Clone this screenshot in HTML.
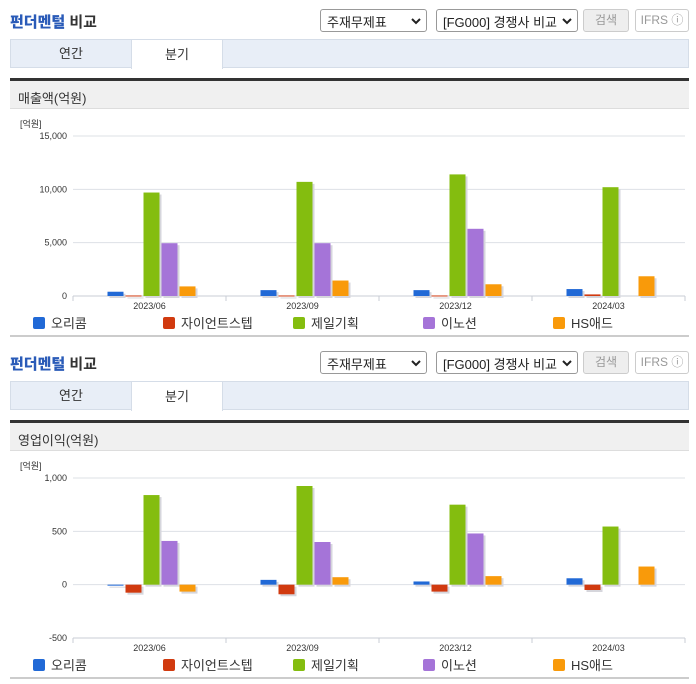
<!DOCTYPE html>
<html><head><meta charset="utf-8">
<style>
*{box-sizing:border-box;margin:0;padding:0}
body{width:696px;height:684px;background:#fff;font-family:"Liberation Sans","Noto Sans CJK KR",sans-serif;position:relative;overflow:hidden;color:#333}
.blk{position:absolute;left:0;width:696px;height:342px}
.title{position:absolute;left:10px;top:11px;font-size:15px;font-weight:bold;color:#333}
.title b{color:#2a5bb8}
.sel{position:absolute;top:9px;height:23px;border:1px solid #999;border-radius:3px;background:#fff;font-size:13px;padding:2px 6px;color:#222}
.sel svg{position:absolute;right:5px;top:8px}
.btn{position:absolute;top:9px;height:23px;border:1px solid #ccc;border-radius:3px;font-size:12px;color:#999;text-align:center;line-height:21px}
.tabs{position:absolute;left:10px;top:39px;width:679px;height:29px;background:#e8eef7;border:1px solid #d5dde8}
.tab{position:absolute;top:-1px;height:29px;line-height:30px;font-size:13px;text-align:center;color:#333}
.tab.on{background:#fff;border:1px solid #d5dde8;border-bottom:none;height:30px}
.sec{position:absolute;left:10px;top:78px;width:679px;height:31px;background:#f0f0f0;border-top:3px solid #333;border-bottom:1px solid #ddd;font-size:13px;padding:7px 0 0 8px}
.unit{position:absolute;left:20px;top:117px;font-size:9px;color:#333}
svg.ch{position:absolute;left:0;top:0}
.leg{position:absolute;top:313px;font-size:13px;color:#333;display:flex;align-items:center}
.leg i{display:inline-block;width:12px;height:12px;margin-right:6px;border-radius:2px}
.bot{position:absolute;left:10px;top:335px;width:679px;height:2px;background:#ccc}
</style></head><body>
<div id="b1" class="blk" style="top:0"></div>
<div id="b2" class="blk" style="top:342px"></div>
<script>
const categories=["2023/06","2023/09","2023/12","2024/03"];
const seriesNames=["오리콤","자이언트스텝","제일기획","이노션","HS애드"];
const seriesColors=["#2169d6","#d13a0f","#84bd0f","#a574d8","#f99a0a"];
const salesOricom=[400,550,550,650];
const salesGiant=[50,50,50,150];
const salesCheil=[9700,10700,11400,10200];
const salesInnocean=[4950,4950,6300,null];
const salesHS=[900,1450,1100,1850];
const salesTicks=[0,5000,10000,15000];
const opOricom=[0,45,30,60];
const opGiant=[-75,-90,-65,-50];
const opCheil=[840,925,750,545];
const opInnocean=[410,400,480,null];
const opHS=[-65,70,80,170];
const opTicks=[-500,0,500,1000];
const chev='<svg width="10" height="7" viewBox="0 0 10 7"><path d="M1 1l4 4 4-4" fill="none" stroke="#222" stroke-width="2"/></svg>';
function build(id,secTitle,series,ticks,name){
  const b=document.getElementById(id);
  let h='<div class="title"><b>펀더멘털</b> 비교</div>'+
  '<div class="sel" style="left:320px;width:107px">주재무제표'+chev+'</div>'+
  '<div class="sel" style="left:436px;width:142px">[FG000] 경쟁사 비교'+chev+'</div>'+
  '<div class="btn" style="left:583px;width:46px;background:#eee">검색</div>'+
  '<div class="btn" style="left:635px;width:54px;background:#fff">IFRS ⓘ</div>'+
  '<div class="tabs"><div class="tab" style="left:0;width:120px">연간</div><div class="tab on" style="left:120px;width:92px">분기</div></div>'+
  '<div class="sec">'+secTitle+'</div>'+
  '<div class="unit">[억원]</div>';
  seriesNames.forEach((n,i)=>{h+='<div class="leg" style="left:'+(33+130*i)+'px"><i style="background:'+seriesColors[i]+'"></i>'+n+'</div>';});
  h+='<div class="bot"></div>';
  b.innerHTML=h;
  const ns="http://www.w3.org/2000/svg";
  const svg=document.createElementNS(ns,"svg");
  svg.setAttribute("width","696");svg.setAttribute("height","342");svg.setAttribute("class","ch");
  
  
  const x0=73,x1=685,yT=136,yB=296;
  const mn=ticks[0],mx=ticks[ticks.length-1];
  const y=v=>yB-(v-mn)/(mx-mn)*(yB-yT);
  const cw=(x1-x0)/categories.length;
  let s='';
  ticks.forEach(t=>{
    s+='<line x1="'+x0+'" x2="'+x1+'" y1="'+y(t)+'" y2="'+y(t)+'" stroke="'+(t===mn?'#c8ccd4':'#dde0e6')+'" stroke-width="1"/>';
    s+='<text x="'+(x0-6)+'" y="'+(y(t)+3)+'" font-size="9" text-anchor="end" fill="#333">'+t.toLocaleString('en-US')+'</text>';
  });
  for(let c=0;c<=categories.length;c++){const xx=x0+cw*c;s+='<line x1="'+xx+'" x2="'+xx+'" y1="'+yB+'" y2="'+(yB+5)+'" stroke="#c8ccd4"/>';}
  categories.forEach((cat,c)=>{s+='<text x="'+(x0+cw*(c+0.5))+'" y="'+(yB+13)+'" font-size="9" text-anchor="middle" fill="#333">'+cat+'</text>';});
  svg.innerHTML=s;
  const z=y(0);
  series.forEach((arr,si)=>{
    arr.forEach((v,c)=>{
      if(v===null)return;
      const bx=x0+cw*c+cw/2-42+si*18;
      const top=Math.min(y(v),z),hh=Math.max(Math.abs(y(v)-z),1);
      const sh=document.createElementNS(ns,"rect");
      sh.setAttribute("x",bx+2);sh.setAttribute("y",top+2);sh.setAttribute("width",16);sh.setAttribute("height",hh);sh.setAttribute("fill","#d6d6dc");
      svg.appendChild(sh);
      const r=document.createElementNS(ns,"rect");
      r.setAttribute("x",bx);r.setAttribute("y",top);r.setAttribute("width",16);r.setAttribute("height",hh);r.setAttribute("fill",seriesColors[si]);
      
      
      svg.appendChild(r);
    });
  });
  b.appendChild(svg);
}
build("b1","매출액(억원)",[salesOricom,salesGiant,salesCheil,salesInnocean,salesHS],salesTicks,"sales-chart");
build("b2","영업이익(억원)",[opOricom,opGiant,opCheil,opInnocean,opHS],opTicks,"operating-profit-chart");
</script>
</body></html>
